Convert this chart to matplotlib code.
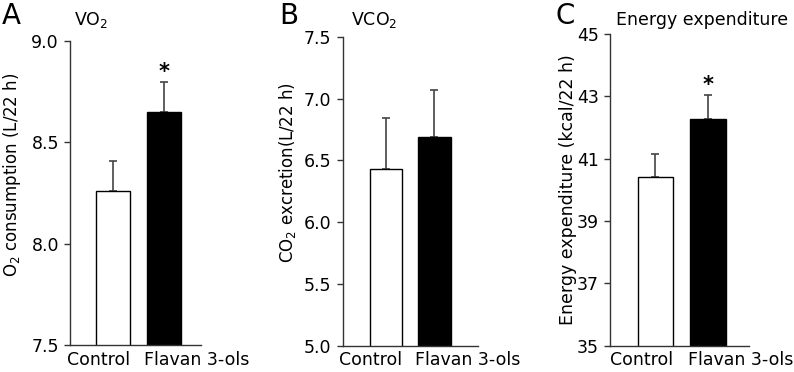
import matplotlib
matplotlib.use("Agg")
import matplotlib.pyplot as plt
from matplotlib.transforms import blended_transform_factory

# --- datos ---------------------------------------------------------------
grupos = ["Control", "Flavan 3-ols"]

vo2 = [8.26, 8.65]
vo2_err = [0.15, 0.15]

vco2 = [6.43, 6.69]
vco2_err = [0.41, 0.38]

energia = [40.4, 42.28]
energia_err = [0.76, 0.75]

significativo = [False, True]          # A y C: asterisco sobre Flavan 3-ols
signif_vco2 = [False, False]

letras = ["A", "B", "C"]
titulos = [r"VO$_2$", r"VCO$_2$", "Energy expenditure"]
ylabels = [r"O$_2$ consumption (L/22 h)",
           r"CO$_2$ excretion(L/22 h)",
           "Energy expenditure (kcal/22 h)"]
ylims = [(7.5, 9.0), (5.0, 7.5), (35, 45)]
yticks = [[7.5, 8.0, 8.5, 9.0],
          [5.0, 5.5, 6.0, 6.5, 7.0, 7.5],
          [35, 37, 39, 41, 43, 45]]
ytick_fmt = ["{:.1f}", "{:.1f}", "{:.0f}"]

# --- figura --------------------------------------------------------------
plt.rcParams["font.family"] = "DejaVu Sans"
plt.rcParams["mathtext.fontset"] = "dejavusans"
fig = plt.figure(figsize=(7.94, 3.72), dpi=100)

rects = [[0.0882, 0.0726, 0.165, 0.8172],
         [0.4316, 0.0707, 0.1704, 0.8306],
         [0.7683, 0.0707, 0.1750, 0.8379]]
xlims = [(-0.85, 1.74), (-0.89, 1.90), (-0.86, 1.78)]
pos_letra = [0.002, 0.352, 0.699]
pos_titulo = [0.093, 0.442, 0.776]
ylabel_xy = [(-0.36, 0.56), (-0.33, 0.56), (-0.235, 0.50)]
ylabel_tam = [12, 12, 12.5]

series = [(vo2, vo2_err, significativo),
          (vco2, vco2_err, signif_vco2),
          (energia, energia_err, significativo)]

eje_color = "#333333"
ancho = 0.67

for i, (vals, errs, sig) in enumerate(series):
    ax = fig.add_axes(rects[i])
    x = [0, 1]
    ax.bar(x, vals, width=ancho, color=["white", "black"],
           edgecolor="black", linewidth=1.0, zorder=2)
    ax.errorbar(x, vals, yerr=[[0, 0], errs], fmt="none",
                ecolor="#444444", elinewidth=1.2, capsize=3,
                capthick=1.2, zorder=1)
    for xi, v, e, s in zip(x, vals, errs, sig):
        if s:
            ax.annotate("*", (xi, v + e), xytext=(0, 0),
                        textcoords="offset points", ha="center",
                        va="bottom", fontsize=15, fontweight="bold")
    ax.set_ylim(*ylims[i])
    ax.set_xlim(*xlims[i])
    ax.set_yticks(yticks[i])
    ax.set_yticklabels([ytick_fmt[i].format(t) for t in yticks[i]],
                       fontsize=12.5)
    ax.set_xticks([])
    ax.tick_params(axis="y", length=4, width=1, color=eje_color, pad=4)
    for lado in ["top", "right"]:
        ax.spines[lado].set_visible(False)
    for lado in ["left", "bottom"]:
        ax.spines[lado].set_color(eje_color)
        ax.spines[lado].set_linewidth(1.0)

    # etiquetas de grupo: Control alineada a la derecha de su barra,
    # Flavan 3-ols alineada a la izquierda de la suya
    trans = blended_transform_factory(ax.transData, ax.transAxes)
    ax.annotate(grupos[0], (x[0] + ancho / 2, 0), xycoords=trans,
                xytext=(0, -4), textcoords="offset points",
                ha="right", va="top", fontsize=12.5)
    ax.annotate(grupos[1], (x[1] - ancho / 2, 0), xycoords=trans,
                xytext=(-2, -4), textcoords="offset points",
                ha="left", va="top", fontsize=12.5)

    ax.set_ylabel(ylabels[i], fontsize=ylabel_tam[i])
    ax.yaxis.set_label_coords(*ylabel_xy[i])
    fig.text(pos_titulo[i], 0.946, titulos[i], fontsize=12.5,
             ha="left", va="center")
    fig.text(pos_letra[i], 0.995, letras[i], fontsize=20,
             ha="left", va="top")

fig.savefig("out.png", dpi=100)
